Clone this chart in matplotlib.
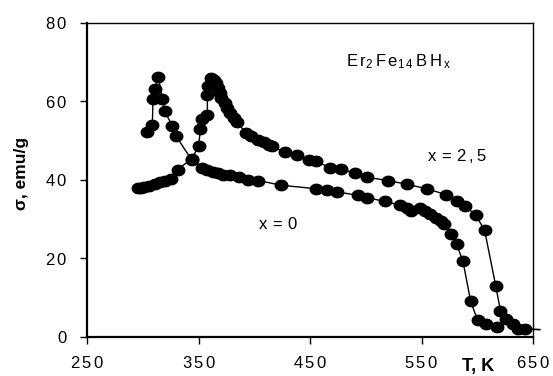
import matplotlib
matplotlib.use("Agg")
import matplotlib.pyplot as plt
import numpy as np
from matplotlib.path import Path

plt.rcParams['font.family'] = ['Liberation Sans', 'DejaVu Sans']
plt.rcParams['mathtext.default'] = 'regular'

# x = 0 curve
T0 = [303.5, 308.3, 308.9, 310.5, 313.6, 317.4, 319.3, 326.2, 329.4, 343.5,
      353.0, 357.7, 362.4, 367.2, 371.9, 378.2, 386.1, 393.9, 403.4, 423.9,
      455.4, 464.8, 474.3, 493.1, 501.0, 516.8, 531.0, 537.2, 540.4, 548.3,
      553.0, 557.7, 562.5, 567.2, 570.3, 576.6, 581.4, 587.0, 594.0, 600.2,
      608.1, 617.6]
S0 = [52.1, 54.0, 60.6, 63.1, 66.3, 60.6, 57.4, 53.8, 51.2, 45.1,
      43.0, 42.4, 41.9, 41.6, 41.3, 41.1, 40.6, 40.0, 39.8, 38.6,
      37.7, 37.3, 36.9, 36.0, 35.4, 34.5, 33.5, 32.9, 32.0, 32.7,
      32.0, 31.2, 30.3, 29.5, 28.6, 26.1, 23.5, 19.3, 9.0, 4.2,
      3.2, 2.5]

# x = 2.5 curve
T25 = [295.4, 297.9, 301.0, 305.7, 310.5, 315.2, 319.9, 324.6, 331.0, 343.5,
       349.8, 351.4, 353.0, 357.7, 357.7, 358.3, 360.9, 364.0, 365.6, 367.2,
       368.7, 370.3, 373.5, 375.0, 378.2, 381.3, 384.5, 392.4, 397.2, 403.4,
       408.1, 412.9, 416.0, 427.0, 438.0, 449.0, 455.4, 467.9, 477.4, 490.0,
       501.0, 519.9, 537.2, 554.6, 571.9, 581.4, 589.2, 598.7, 606.5, 616.6,
       620.7, 625.4, 631.7, 636.5, 642.8]
S25 = [37.9, 37.9, 38.1, 38.4, 39.0, 39.4, 39.8, 40.3, 42.6, 45.3,
       48.5, 52.8, 55.5, 56.6, 61.5, 63.9, 65.9, 65.5, 64.6, 63.3,
       62.1, 60.8, 59.5, 58.3, 57.0, 55.7, 54.6, 51.9, 51.1, 50.2,
       49.5, 48.9, 48.5, 47.0, 46.4, 45.1, 44.7, 43.0, 42.8, 41.7,
       40.6, 39.8, 38.8, 37.7, 36.2, 34.5, 33.3, 30.9, 27.1, 12.8,
       6.6, 4.5, 3.2, 2.0, 2.0]

xticks = [250, 350, 450, 550, 650]
yticks = [0, 20, 40, 60, 80]


def spaced(s):
    """Letter-spaced text rendered through mathtext (regular font)."""
    return '$' + r'\,'.join('{%s}' % c for c in str(s)) + '$'


# slightly wide elliptical marker
th = np.linspace(0, 2 * np.pi, 40)
ell = Path(np.column_stack([1.2 * np.cos(th), np.sin(th)]), closed=True)

fig = plt.figure(figsize=(5.53, 3.76), dpi=100)
ax = fig.add_axes([0.158, 0.1045, 0.806, 0.835])

for T, S in [(T0, S0), (T25, S25)]:
    ax.plot(T, S, color='black', lw=1.0, marker=ell, markersize=9,
            markerfacecolor='black', markeredgecolor='black')

# short tail continuing beyond the frame
ax.plot([642.8, 656], [2.0, 1.8], color='black', lw=1.2, clip_on=False)

ax.set_xlim(250, 650)
ax.set_ylim(0, 80)
ax.set_xticks(xticks)
ax.set_xticklabels([spaced(v) for v in xticks])
ax.set_yticks(yticks)
ax.set_yticklabels([spaced(v) for v in yticks])
ax.tick_params(direction='out', length=5, width=1.0, labelsize=12,
               colors='black')
ax.tick_params(axis='x', pad=8)
ax.tick_params(axis='y', pad=9)
for s in ['left', 'bottom']:
    ax.spines[s].set_linewidth(1.6)
for s in ['top', 'right']:
    ax.spines[s].set_linewidth(1.0)

ax.set_ylabel('σ, emu/g', fontsize=12.5, fontweight='bold', labelpad=6)
ax.yaxis.set_label_coords(-0.13, 0.52)
fig.text(478 / 553, 1 - 367 / 376, 'T, K', fontsize=13, fontweight='bold',
         ha='center', va='center')

ax.text(482, 70.1, r'$E\,r_2\,F\,e_{1\,4}\,B\,H_{\,x}$', fontsize=12,
        ha='left', va='center')
ax.text(554.6, 46, spaced('x=2,5'), fontsize=12, ha='left', va='center')
ax.text(403.4, 28.6, spaced('x=0'), fontsize=12, ha='left', va='center')

fig.savefig('out.png', dpi=100)
